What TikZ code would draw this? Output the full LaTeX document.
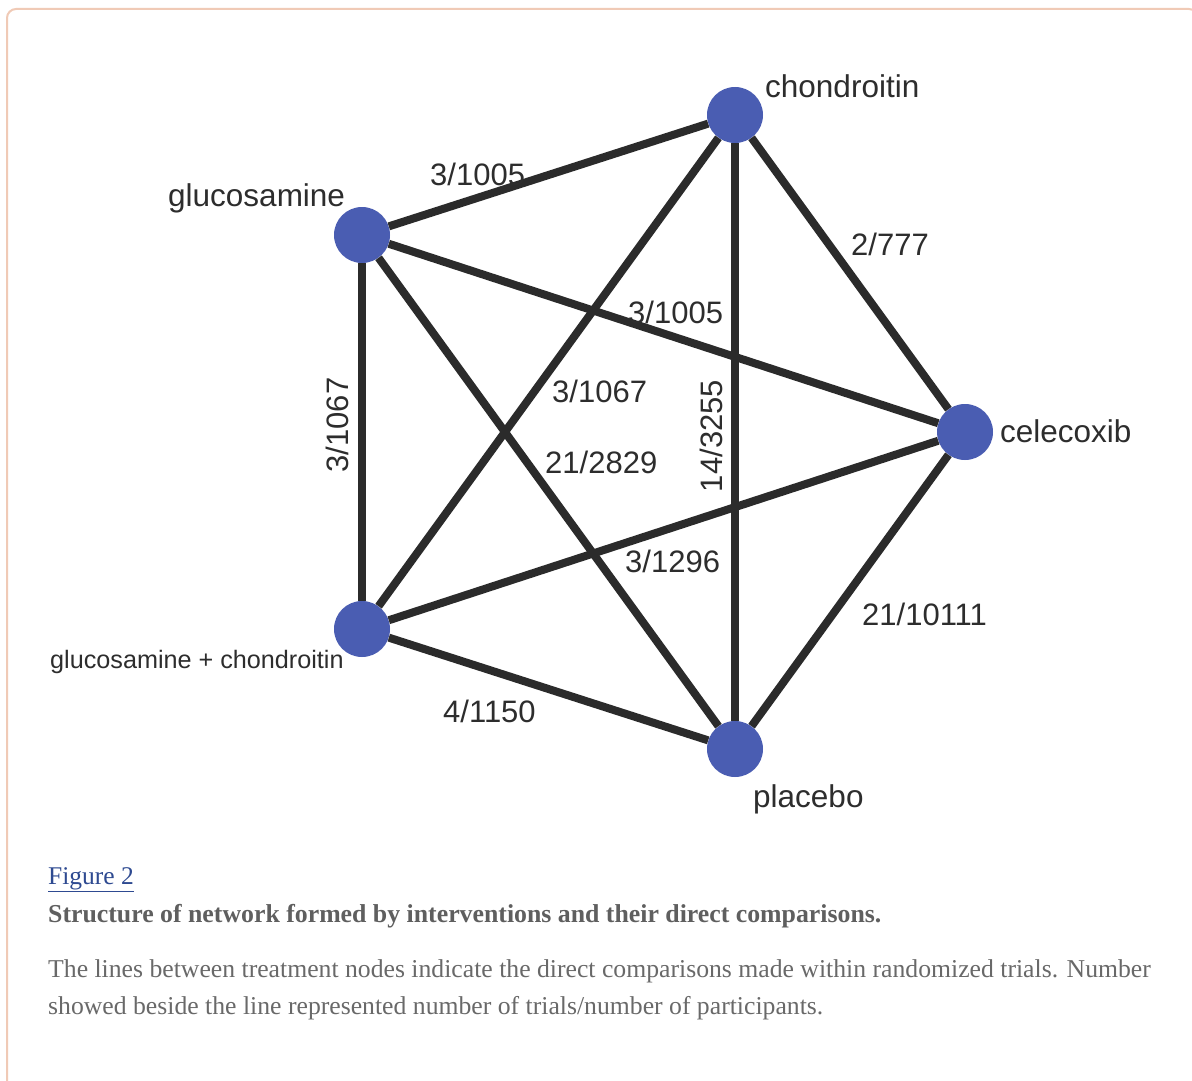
\documentclass[tikz,border=0pt]{standalone}
\usepackage{fontspec}
\setmainfont{Liberation Serif}
\newfontfamily\sansf{Liberation Sans}
\definecolor{nodeblue}{RGB}{74,93,178}
\definecolor{edgeclr}{RGB}{43,43,43}
\definecolor{labclr}{RGB}{45,45,45}
\definecolor{framec}{RGB}{240,202,182}
\definecolor{linkc}{RGB}{46,74,145}
\definecolor{capbold}{RGB}{95,95,95}
\definecolor{captext}{RGB}{105,105,105}
\tikzset{
  trt/.style={circle,fill=nodeblue,draw=none,minimum size=56pt,inner sep=0pt},
  conn/.style={draw=edgeclr,line width=8pt},
  elab/.style={font=\sansf\fontsize{31}{31}\selectfont,text=labclr,inner sep=0pt,anchor=base west},
  nlab/.style={font=\sansf\fontsize{31.5}{31.5}\selectfont,text=labclr,inner sep=0pt,anchor=base west},
  capt/.style={font=\fontsize{25.7}{25.7}\selectfont,text=captext,inner sep=0pt,anchor=base west}
}
\begin{document}
\begin{tikzpicture}[x=1pt,y=-1pt]
\useasboundingbox (0,0) rectangle (1192,1081);
\fill[white] (0,0) rectangle (1192,1081);
% frame
\draw[framec,line width=2pt,rounded corners=9pt] (7,1100) -- (7,9) -- (1198,9) -- (1198,1100);
% treatment nodes
\node[trt] (ch) at (735,115) {};
\node[trt] (gl) at (362,235) {};
\node[trt] (ce) at (965,432) {};
\node[trt] (gc) at (362,629) {};
\node[trt] (pl) at (735,749) {};
% connectors
\draw[conn] (gl) -- (ch);
\draw[conn] (gl) -- (ce);
\draw[conn] (gl) -- (gc);
\draw[conn] (gl) -- (pl);
\draw[conn] (ch) -- (ce);
\draw[conn] (ch) -- (gc);
\draw[conn] (ch) -- (pl);
\draw[conn] (ce) -- (gc);
\draw[conn] (ce) -- (pl);
\draw[conn] (gc) -- (pl);
% node labels
\node[nlab] (tch) at (765,97) {chondroitin};
\node[nlab] (tgl) at (168,206) {glucosamine};
\node[nlab] (tce) at (1000,442) {celecoxib};
\node[nlab] (tpl) at (753,807) {placebo};
\node[nlab,font=\sansf\fontsize{25.2}{25.2}\selectfont] (tgc) at (50,668) {glucosamine + chondroitin};
% edge labels
\node[elab] (l1) at (430,185) {3/1005};
\node[elab] (l2) at (851,255) {2/777};
\node[elab] (l3) at (628,323) {3/1005};
\node[elab] (l4) at (552,402) {3/1067};
\node[elab] (l5) at (545,473) {21/2829};
\node[elab] (l6) at (625,572) {3/1296};
\node[elab] (l7) at (862,625) {21/10111};
\node[elab] (l8) at (443,722) {4/1150};
\node[elab,anchor=center,rotate=90] (l9) at (711,436) {14/3255};
\node[elab,anchor=center,rotate=90] (l10) at (337,425) {3/1067};
% caption
\node[capt,text=linkc,font=\fontsize{25.5}{25.5}\selectfont] (fig) at (48,884) {\underline{Figure 2}};
\node[capt,font=\bfseries\fontsize{25.8}{25.8}\selectfont,text=capbold] (cap1) at (48,922) {Structure of network formed by interventions and their direct comparisons.};
\node[capt] (cap2) at (48,977) {The lines between treatment nodes indicate the direct comparisons made within randomized trials. Number};
\node[capt] (cap3) at (48,1014) {showed beside the line represented number of trials/number of participants.};
\end{tikzpicture}
\end{document}
